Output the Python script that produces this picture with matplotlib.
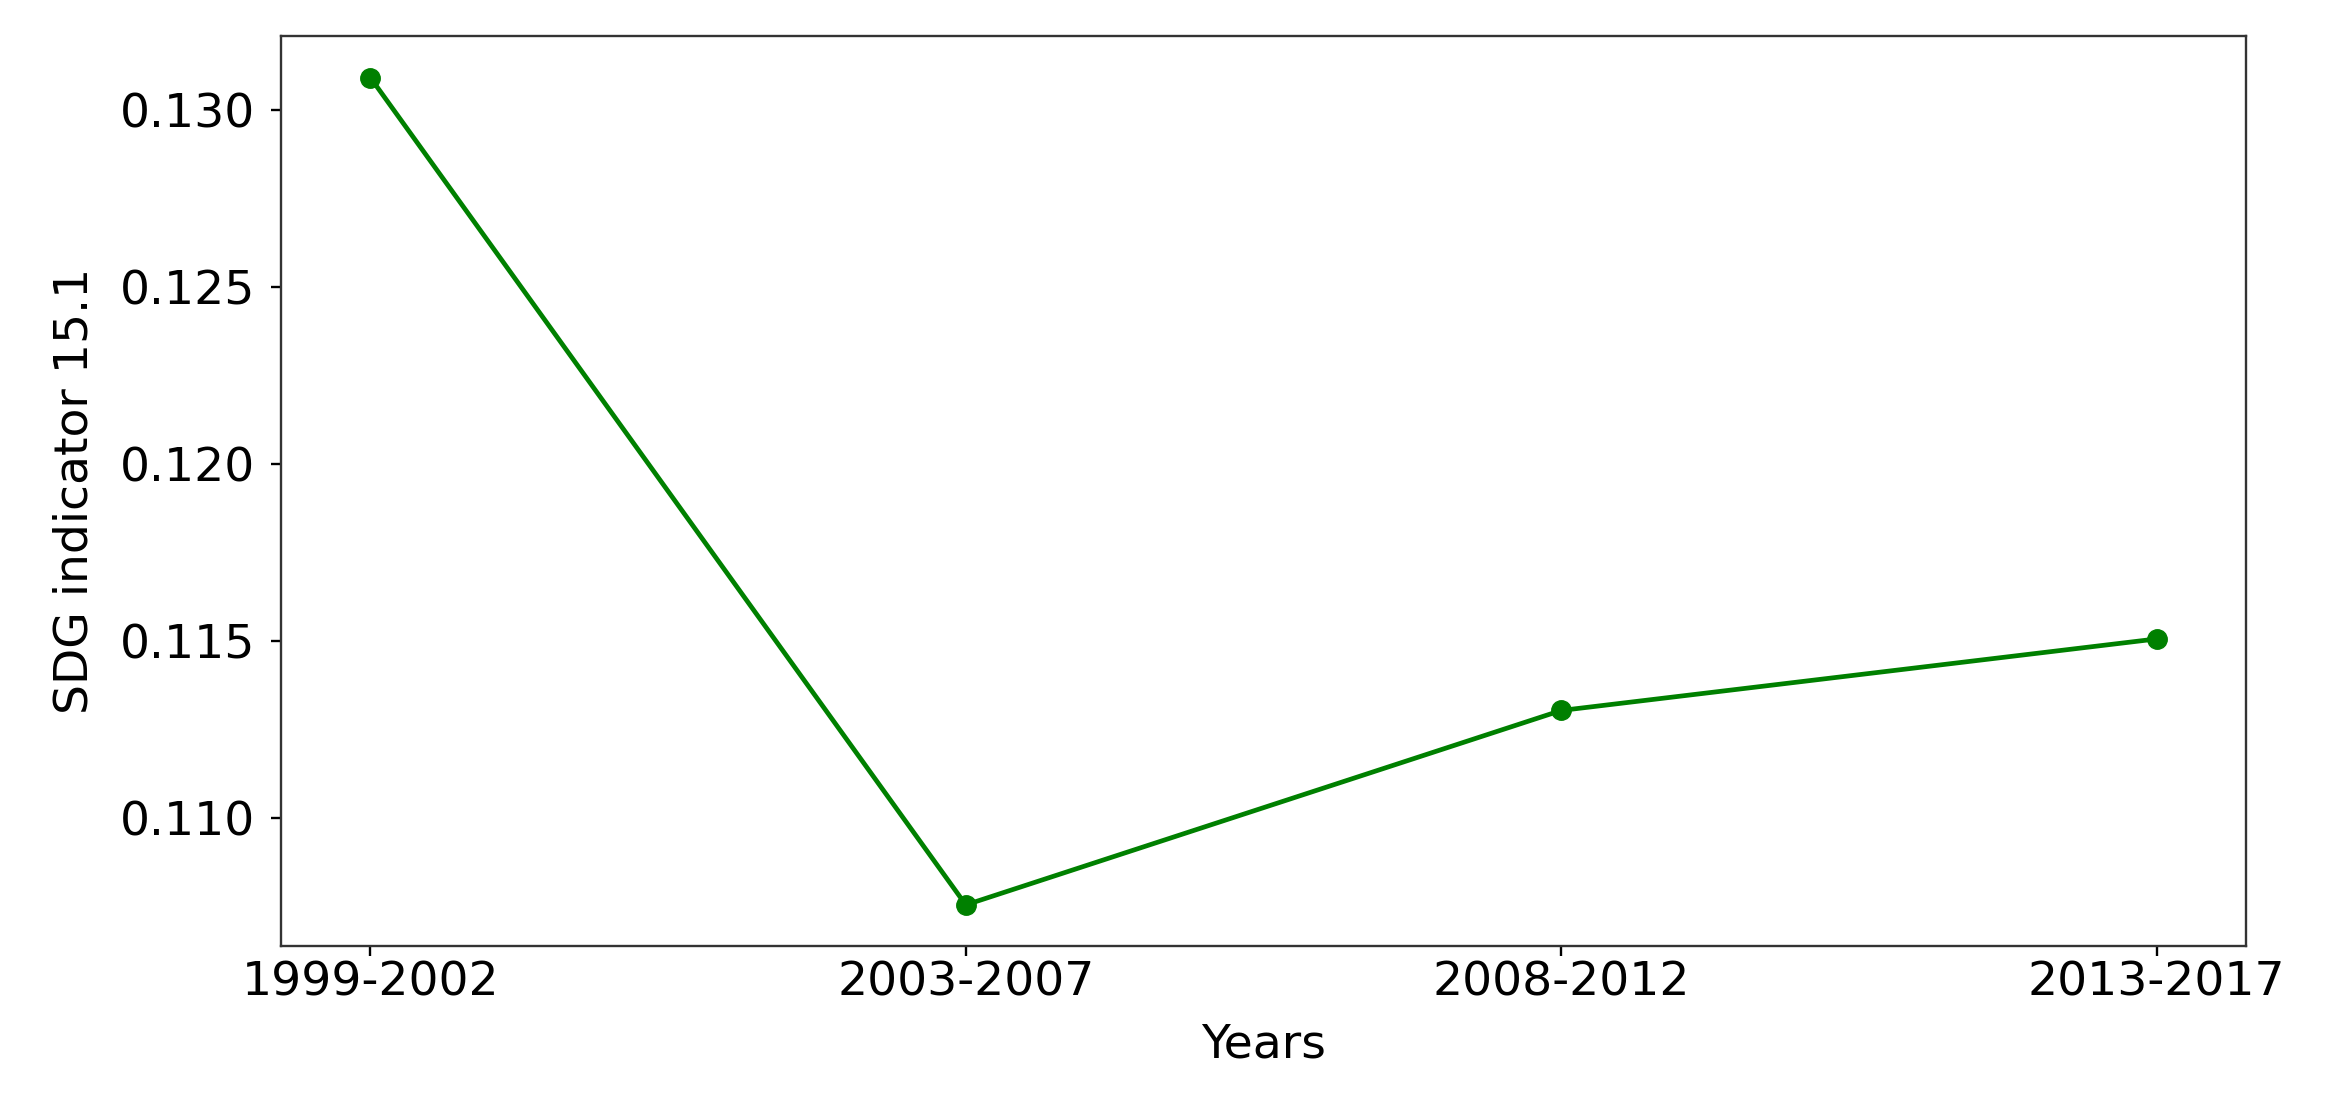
import matplotlib.pyplot as plt

# Data
periods = ["1999-2002", "2003-2007", "2008-2012", "2013-2017"]
sdg_values = [0.1309, 0.10754, 0.11303, 0.11505]

fig, ax = plt.subplots(figsize=(23.25, 10.99), dpi=100)
fig.subplots_adjust(left=0.1209, right=0.966, top=0.967, bottom=0.139)

ax.plot(periods, sdg_values, "-o", color="green", linewidth=3.4, markersize=14)

ax.set_xlabel("Years", fontsize=34, labelpad=12)
ax.set_ylabel("SDG indicator 15.1", fontsize=34, labelpad=16)
ax.set_yticks([0.110, 0.115, 0.120, 0.125, 0.130])
ax.set_yticklabels(["0.110", "0.115", "0.120", "0.125", "0.130"])
ax.tick_params(labelsize=34, length=7, width=1.7)
ax.tick_params(axis="y", pad=11.5)
for spine in ax.spines.values():
    spine.set_linewidth(1.7)
    spine.set_color("#333333")

plt.savefig("out.png", dpi=100)
plt.close(fig)
